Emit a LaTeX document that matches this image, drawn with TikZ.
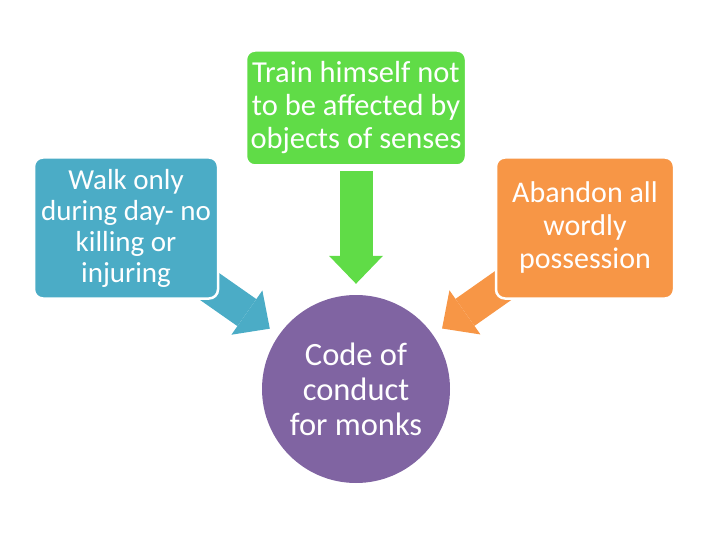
\documentclass[tikz,border=0pt]{standalone}
\usepackage{fontspec}
\setmainfont{Carlito}
\usetikzlibrary{arrows.meta,backgrounds}

\definecolor{aqua}{HTML}{4BACC6}
\definecolor{lima}{HTML}{60DC47}
\definecolor{naranja}{HTML}{F79646}
\definecolor{morado}{HTML}{8064A2}

\begin{document}
\begin{tikzpicture}[
    x=1pt,
    y=-1pt,
    line join=round,
    every node/.style={text=white, align=center, inner sep=0pt},
    box/.style={rectangle, draw=white, line width=2.5pt, rounded corners=9pt},
    hub/.style={circle, minimum size=188pt},
    pointer/.style={line width=33pt, -{Triangle[length=28pt, width=54pt, line width=0pt]}, shorten >=11pt}
]

\useasboundingbox (0,0) rectangle (720,540);

\node[box, fill=lima, minimum width=220pt, minimum height=115pt,
      font=\fontsize{30.5}{33}\selectfont] (train) at (356,108)
      {Train himself not\\to be affected by\\objects of senses};
\node[box, fill=aqua, minimum width=184pt, minimum height=141pt,
      font=\fontsize{29}{31}\selectfont] (walk) at (126,228)
      {Walk only\\during day- no\\killing or\\injuring};
\node[box, fill=naranja, minimum width=178pt, minimum height=141pt,
      font=\fontsize{30}{33}\selectfont] (abandon) at (585,228)
      {Abandon all\\wordly\\possession};
\node[hub, fill=morado, font=\fontsize{32.5}{35}\selectfont] (code) at (356,389)
      {Code of\\conduct\\for monks};

\begin{scope}[on background layer]
\draw[pointer, lima, shorten <=4.5pt] (train) -- (code);
\draw[pointer, aqua] (walk.center) -- (code);
\draw[pointer, naranja] (abandon.center) -- (code);
\end{scope}

\end{tikzpicture}
\end{document}
